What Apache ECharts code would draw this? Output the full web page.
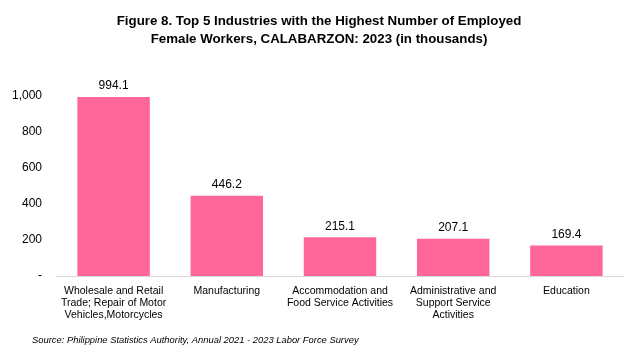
<!DOCTYPE html>
<html>
<head>
<meta charset="utf-8">
<script src="https://cdn.jsdelivr.net/npm/echarts@6/dist/echarts.min.js"></script>
<style>
  html, body { margin: 0; padding: 0; background: #fff; }
  #chart { width: 638px; height: 353px; }
</style>
</head>
<body>
<div id="chart"></div>
<script>
const categories = [
  'Wholesale and Retail\nTrade; Repair of Motor\nVehicles,Motorcycles',
  'Manufacturing',
  'Accommodation and\nFood Service Activities',
  'Administrative and\nSupport Service\nActivities',
  'Education'
]
const femaleWorkers = [994.1, 446.2, 215.1, 207.1, 169.4]

const chart = echarts.init(document.getElementById('chart'))
const font = 'Liberation Sans, Arial, sans-serif'

chart.setOption({
  animation: false,
  backgroundColor: '#fff',
  title: {
    text: 'Figure 8. Top 5 Industries with the Highest Number of Employed\nFemale Workers, CALABARZON: 2023 (in thousands)',
    left: 'center', top: 7,
    textStyle: { fontFamily: font, fontSize: 13.3, fontWeight: 'bold', color: '#000', lineHeight: 18, align: 'center' }
  },
  graphic: [{
    type: 'text', left: 32, top: 336,
    style: {
      text: 'Source: Philippine Statistics Authority, Annual 2021 - 2023 Labor Force Survey',
      font: 'italic 9.4px Liberation Sans, Arial, sans-serif', fill: '#000'
    }
  }],
  grid: { left: 57, right: 15, top: 96, bottom: 77 },
  xAxis: {
    type: 'category', data: categories,
    axisLine: { lineStyle: { color: '#d9d9d9' } },
    axisTick: { show: false },
    axisLabel: { fontFamily: font, fontSize: 10.5, color: '#000', lineHeight: 12, interval: 0, margin: 9 }
  },
  yAxis: {
    type: 'value', min: 0, max: 1000, interval: 200,
    axisLine: { show: false }, axisTick: { show: false },
    splitLine: { show: false },
    axisLabel: {
      fontFamily: font, fontSize: 12, color: '#000', margin: 15,
      formatter: v => v === 0 ? '-' : v.toLocaleString('en-US')
    }
  },
  series: [{
    type: 'bar', data: femaleWorkers, barWidth: '64%',
    itemStyle: { color: '#ff6699' },
    label: { show: true, position: 'top', fontFamily: font, fontSize: 12, color: '#000', distance: 5,
      formatter: p => p.value.toFixed(1) }
  }]
})
</script>
</body>
</html>
